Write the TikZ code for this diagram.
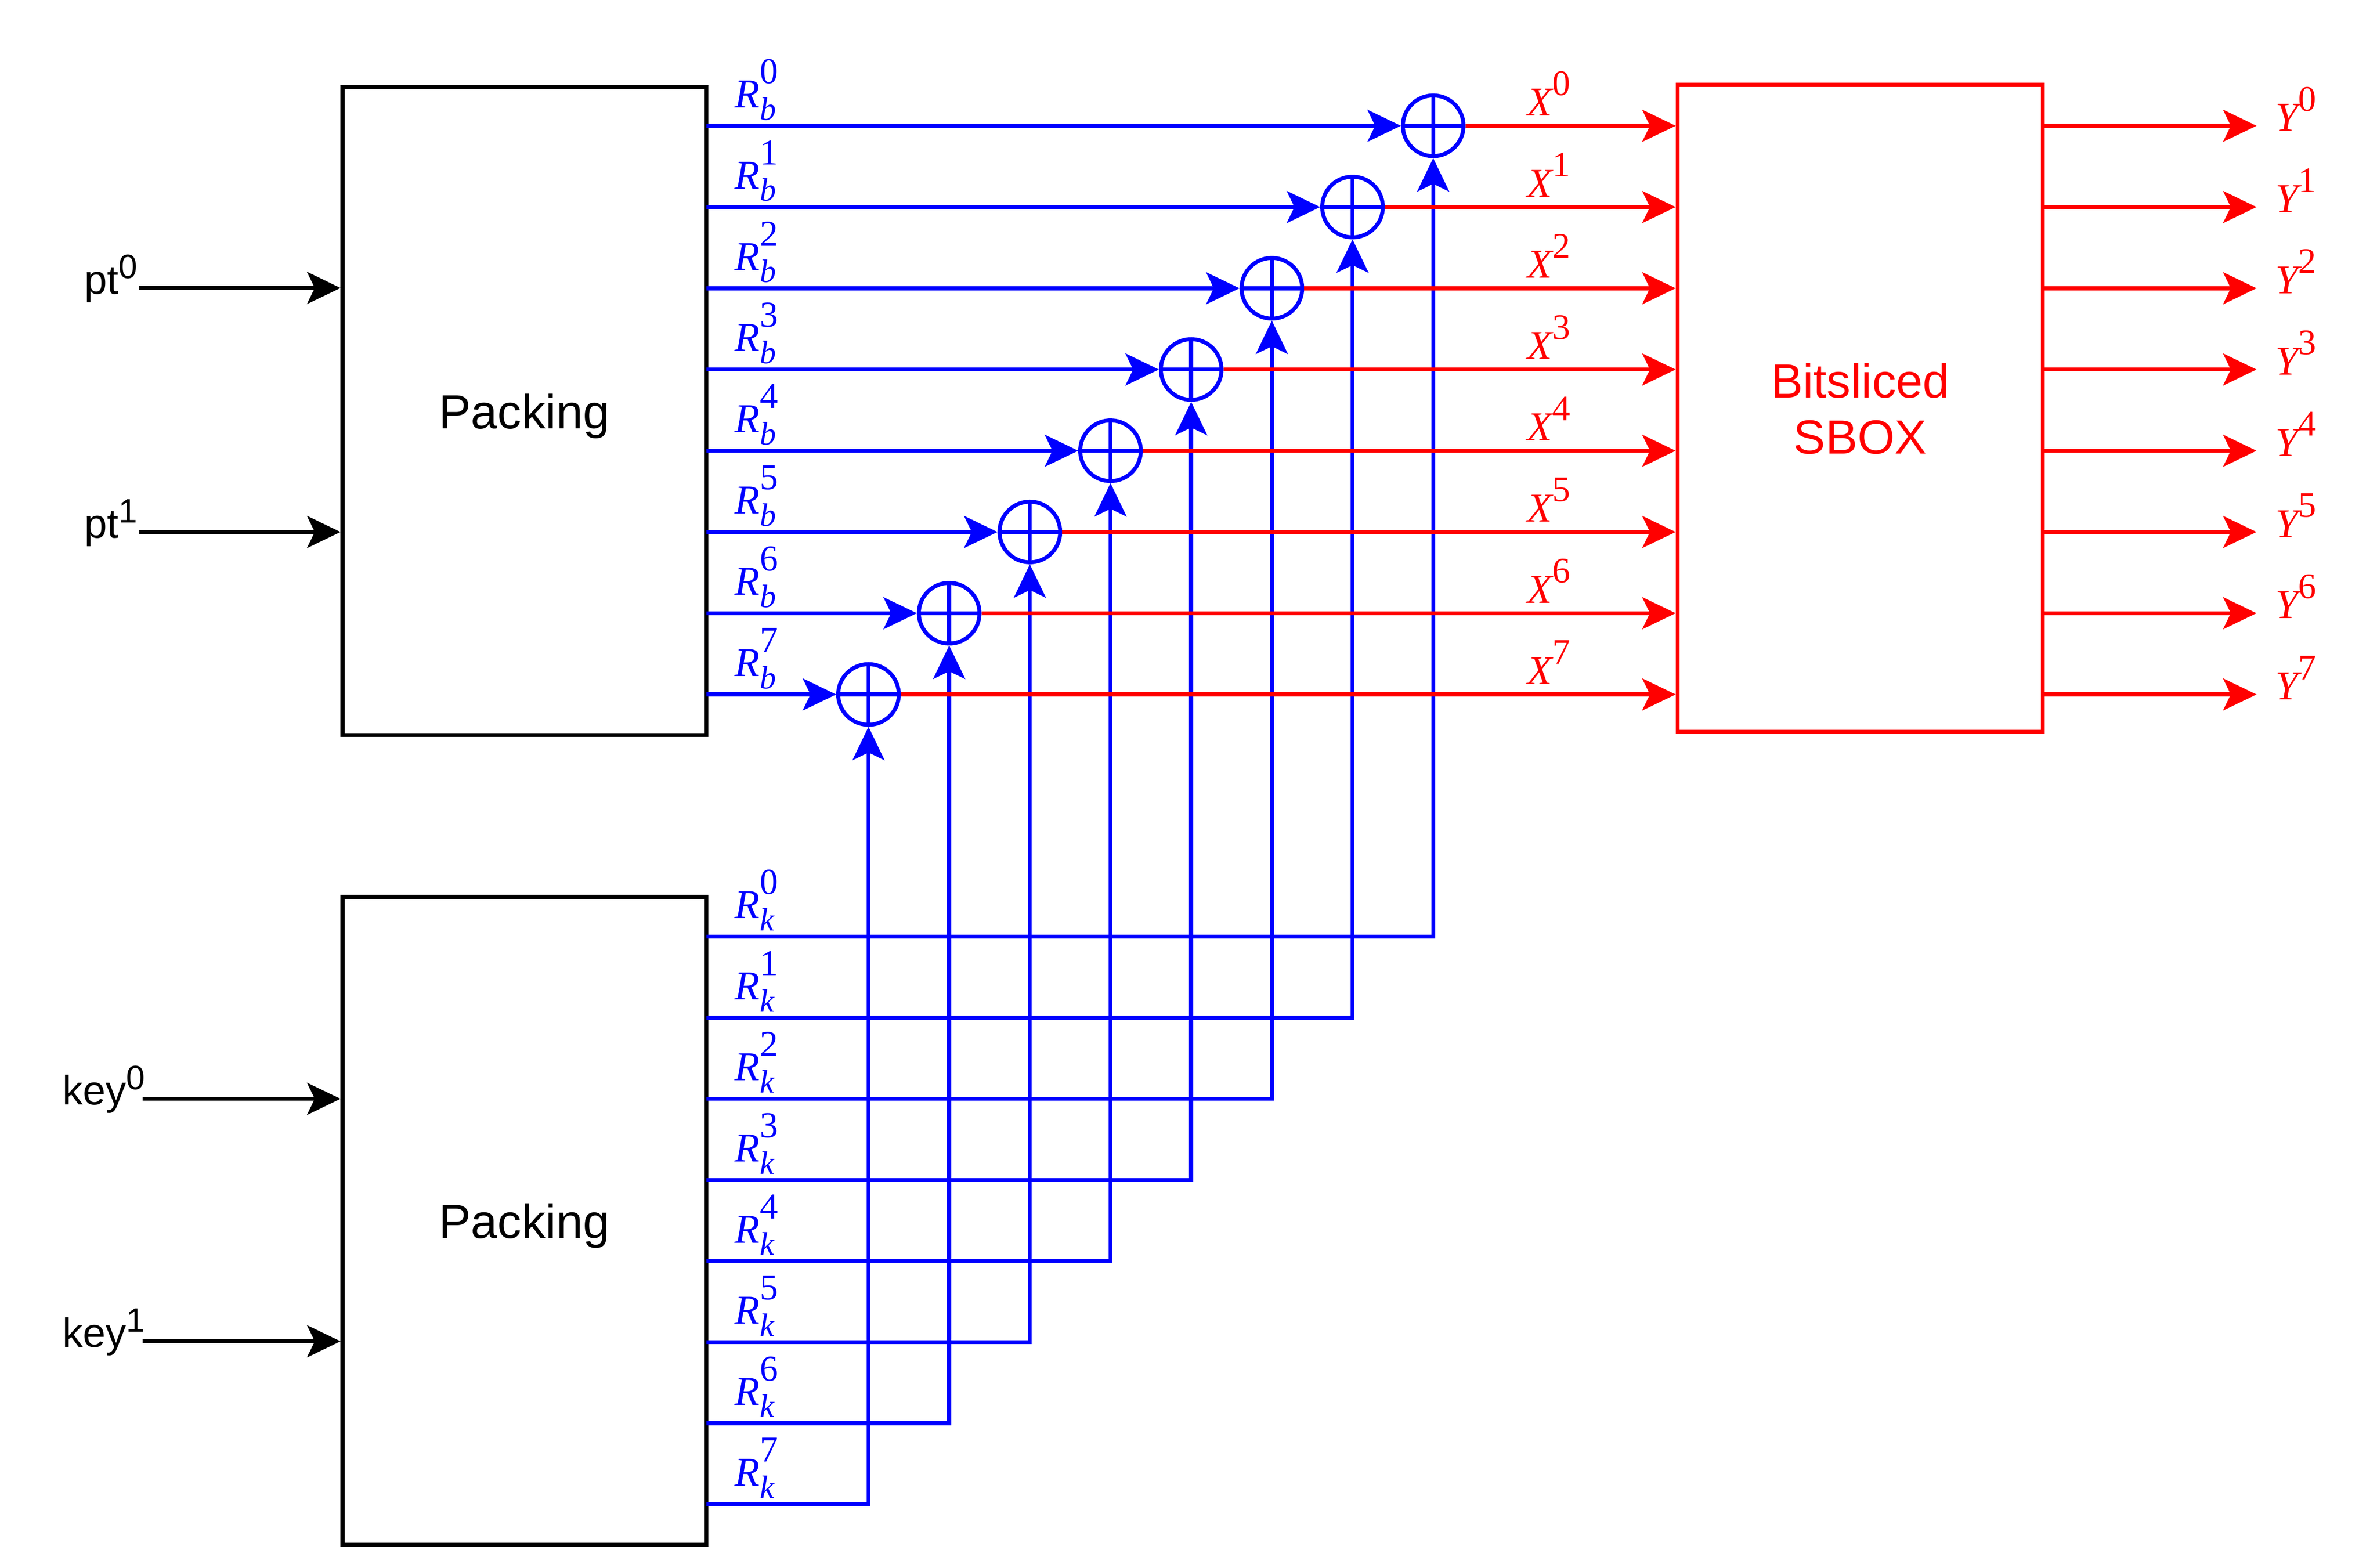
\documentclass[tikz,border=0pt]{standalone}
\usepackage[no-math]{fontspec}
\setmainfont{Liberation Sans}
\newfontfamily\tmfont{Liberation Serif}
\usetikzlibrary{arrows.meta,positioning}

% labels with stacked sub- and superscript, and with superscript only
\newcommand{\rsym}[3]{{\tmfont\itshape #1}\rlap{\raisebox{-4.6pt}{\fontsize{12.2}{12}\tmfont\itshape #2}}\raisebox{9.1pt}{\fontsize{13.7}{14}\tmfont #3}}
\newcommand{\xsym}[2]{{\tmfont\itshape #1}\raisebox{7.6pt}{\fontsize{13.5}{14}\tmfont #2}}
\newcommand{\insym}[2]{#1\raisebox{5.8pt}{\fontsize{12.7}{13}\selectfont #2}}

\begin{document}
\begin{tikzpicture}[x=0.02cm,y=-0.02cm,
    packbox/.style={draw,line width=1.5pt,minimum width=4.8cm,minimum height=8.55cm,text depth=0pt,align=center,font=\fontsize{18}{21}\selectfont},
    xor/.style={draw=blue,circle,line width=1.5pt,minimum size=0.8cm,inner sep=0pt,
        path picture={\draw[blue,line width=1.5pt] (path picture bounding box.north) -- (path picture bounding box.south)
            (path picture bounding box.west) -- (path picture bounding box.east);}},
    wire/.style={line width=1.5pt,-{Stealth[length=0.44cm,width=0.42cm,inset=0.1cm]}},
    lbl/.style={inner sep=0pt,font=\fontsize{15.4}{18}\selectfont},
    mlbl/.style={inner sep=0pt,font=\fontsize{15.4}{18}\tmfont}]
    \useasboundingbox (0,0) rectangle (1568.5,1034.3);

    \node[packbox] (pack1) at (346,271.2) {Packing};
    \node[packbox] (pack2) at (346,805.5) {Packing};
    \node[packbox,draw=red,text=red,minimum width=4.82cm,minimum height=8.54cm] (sbox) at (1227.5,269.5) {Bitsliced\\SBOX};

    % plaintext and key inputs
    \foreach \y/\n in {190/0,351/1} {
        \coordinate (pt\n) at (92,\y);
        \node[lbl,anchor=base east] (ptl\n) at ([shift={(-1,4)}]pt\n) {\insym{pt}{\n}};
        \draw[wire] (pt\n) -- (pt\n -| pack1.west);
    }
    \foreach \y/\n in {725/0,885/1} {
        \coordinate (key\n) at (94,\y);
        \node[lbl,anchor=base east] (keyl\n) at ([shift={(2,4)}]key\n) {\insym{key}{\n}};
        \draw[wire] (key\n) -- (key\n -| pack2.west);
    }

    % xor stage and sbox
    \foreach \i in {0,...,7} {
        \pgfmathsetmacro\xx{945.7-53.23*\i}
        \pgfmathsetmacro\yb{83+53.6*\i}
        \pgfmathsetmacro\yk{618+53.5*\i}
        \node[xor] (x\i) at (\xx,\yb) {};
        \coordinate (rb\i) at (466,\yb);
        \coordinate (rk\i) at (466,\yk);
        \coordinate (y\i) at (1489,\yb);
        \draw[wire,blue] (rb\i) -- (x\i.west);
        \draw[wire,blue] (rk\i) -| (x\i.south);
        \node[mlbl,blue,anchor=base west] (rbl\i) at ([shift={(18.5,-12)}]rb\i) {\rsym{R}{b}{\i}};
        \node[mlbl,blue,anchor=base west] (rkl\i) at ([shift={(18.5,-12)}]rk\i) {\rsym{R}{k}{\i}};
        \draw[wire,red] (x\i.east) -- (x\i.east -| sbox.west);
        \node[mlbl,red,anchor=base west] (xl\i) at (1007.5,{\yb-6.7}) {\xsym{X}{\i}};
        \draw[wire,red] (y\i -| sbox.east) -- (y\i);
        \node[mlbl,red,anchor=base west] (yl\i) at ([shift={(12,3.5)}]y\i) {\xsym{Y}{\i}};
    }
\end{tikzpicture}
\end{document}
